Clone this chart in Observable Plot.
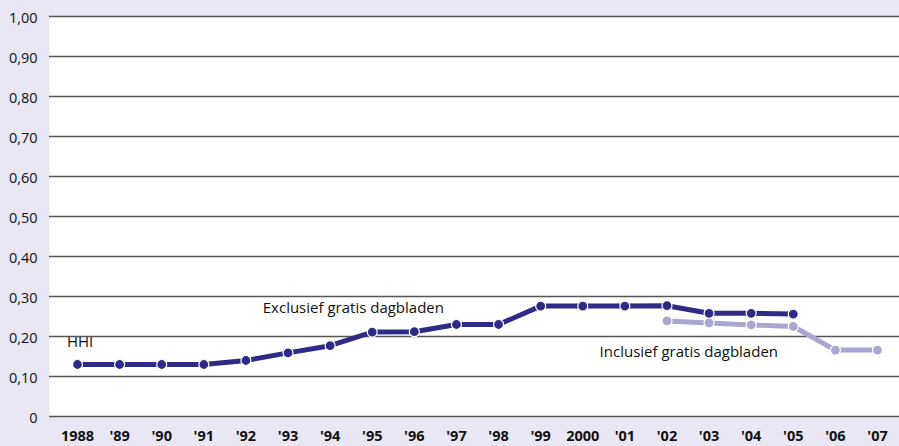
<!DOCTYPE html>
<html><head><meta charset="utf-8">
<script src="https://cdn.jsdelivr.net/npm/d3@7"></script>
<script src="https://cdn.jsdelivr.net/npm/@observablehq/plot@0.6"></script>
<style>
html,body{margin:0;padding:0;background:#e9e7f3;}
#chart svg{display:block;}
#chart svg g[aria-label="y-axis tick label"]{font-size:14.5px;}
#chart svg g[aria-label="x-axis tick label"]{font-size:14.5px;font-weight:bold;}
</style></head><body><div id="chart"></div>
<script>
const years = [1988,1989,1990,1991,1992,1993,1994,1995,1996,1997,1998,1999,2000,2001,2002,2003,2004,2005,2006,2007];
const xTickLabels = ["1988","'89","'90","'91","'92","'93","'94","'95","'96","'97","'98","'99","2000","'01","'02","'03","'04","'05","'06","'07"];
const exclYears = [1988,1989,1990,1991,1992,1993,1994,1995,1996,1997,1998,1999,2000,2001,2002,2003,2004,2005];
const exclValues = [0.13,0.13,0.13,0.13,0.14,0.159,0.177,0.211,0.212,0.23,0.23,0.276,0.276,0.276,0.277,0.258,0.258,0.256];
const inclYears = [2002,2003,2004,2005,2006,2007];
const inclValues = [0.239,0.234,0.229,0.225,0.166,0.166];
const yTicks = [0,0.1,0.2,0.3,0.4,0.5,0.6,0.7,0.8,0.9,1.0];
const yTickLabels = ["0","0,10","0,20","0,30","0,40","0,50","0,60","0,70","0,80","0,90","1,00"];
const noteTexts = ["HHI","Exclusief gratis dagbladen","Inclusief gratis dagbladen"];
const noteX = [1987.75,1992.4,2000.4];
const noteY = [0.173,0.26,0.148];

const excl = exclYears.map((y,i)=>({year:y, value:exclValues[i]}));
const incl = inclYears.map((y,i)=>({year:y, value:inclValues[i]}));
const notes = noteTexts.map((t,i)=>({text:t, x:noteX[i], y:noteY[i]}));

const dark = "#2f2a88";
const light = "#aaa6d2";

const chart = Plot.plot({
  width: 899, height: 446,
  marginLeft: 49, marginRight: 0, marginTop: 16, marginBottom: 30,
  style: {background: "transparent", fontFamily: "'Open Sans', sans-serif", fontSize: "14px", color: "#111"},
  x: {type: "linear", domain: [1988, 2007], insetLeft: 28, insetRight: 22},
  y: {domain: [0, 1]},
  marks: [
    Plot.frame({fill: "white", stroke: null}),
    Plot.ruleY(yTicks, {stroke: "#555", strokeWidth: 1.3}),
    Plot.axisY({ticks: yTicks, tickFormat: d => yTickLabels[yTicks.indexOf(d)], tickSize: 0, tickPadding: 12, dy: 2, label: null, fontSize: 14.5, fill: "#111"}),
    Plot.axisX({ticks: years, tickFormat: d => xTickLabels[years.indexOf(d)], tickSize: 0, tickPadding: 14, label: null, fontSize: 14.5, fontWeight: "bold", fill: "#111"}),
    Plot.line(incl, {x: "year", y: "value", stroke: light, strokeWidth: 5}),
    Plot.dot(incl, {x: "year", y: "value", fill: light, stroke: "white", strokeWidth: 1.2, r: 5}),
    Plot.line(excl, {x: "year", y: "value", stroke: dark, strokeWidth: 5}),
    Plot.dot(excl, {x: "year", y: "value", fill: dark, stroke: "white", strokeWidth: 1.2, r: 5}),
    Plot.text(notes, {x: "x", y: "y", text: "text", textAnchor: "start", lineAnchor: "bottom", fontSize: 15, fill: "#111"})
  ]
});
document.getElementById("chart").appendChild(chart);
</script>
</body></html>
